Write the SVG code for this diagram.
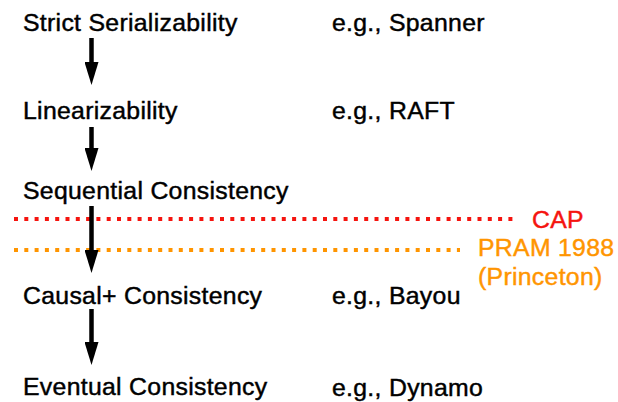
<svg xmlns="http://www.w3.org/2000/svg" width="618" height="402" viewBox="0 0 618 402">
  <style>
    text { font-family: "Liberation Sans", Arial, Helvetica, sans-serif; font-size: 24.8px; letter-spacing: 0.3px; fill: #000; stroke: #000; stroke-width: 0.45px; }
    .cap { fill: #f5140f; stroke: #f5140f; }
    .pram { fill: #ff9500; stroke: #ff9500; }
    .arrow { stroke: #000; stroke-width: 4.5; fill: none; marker-end: url(#head); }
    .dots { fill: none; stroke-width: 4; stroke-dasharray: 4 6.3; }
  </style>
  <defs>
    <!-- arrowhead: 23 long, 14 wide; line ends 15 short of the tip -->
    <marker id="head" markerUnits="userSpaceOnUse" markerWidth="24" markerHeight="14" refX="8" refY="7" orient="auto" viewBox="0 0 24 14">
      <path d="M0,0 L23,7 L0,14 Z" fill="#000"/>
    </marker>
  </defs>

  <!-- boundary lines -->
  <g id="boundaries">
    <line class="dots" x1="14" y1="219" x2="514" y2="219" stroke="#f5140f"/>
    <line class="dots" x1="14" y1="250" x2="460" y2="250" stroke="#ff9500"/>
  </g>

  <!-- connectors -->
  <g id="connectors">
    <line class="arrow" x1="91.5" y1="38" x2="91.5" y2="70"/>
    <line class="arrow" x1="91.5" y1="127" x2="91.5" y2="156"/>
    <line class="arrow" x1="91.5" y1="206" x2="91.5" y2="258"/>
    <line class="arrow" x1="91.5" y1="309" x2="91.5" y2="350"/>
  </g>

  <!-- consistency levels -->
  <g id="strict"><text x="23" y="31">Strict Serializability</text></g>
  <g id="linear"><text x="23" y="119">Linearizability</text></g>
  <g id="sequential"><text x="23" y="199">Sequential Consistency</text></g>
  <g id="causal"><text x="23" y="304">Causal+ Consistency</text></g>
  <g id="eventual"><text x="23" y="395">Eventual Consistency</text></g>

  <!-- examples -->
  <g id="ex-spanner"><text x="332" y="31">e.g., Spanner</text></g>
  <g id="ex-raft"><text x="332" y="119">e.g., RAFT</text></g>
  <g id="ex-bayou"><text x="332" y="304">e.g., Bayou</text></g>
  <g id="ex-dynamo"><text x="332" y="396">e.g., Dynamo</text></g>

  <!-- boundary labels -->
  <g id="label-cap"><text class="cap" x="532" y="228">CAP</text></g>
  <g id="label-pram">
    <text class="pram" x="478" y="256">PRAM 1988</text>
    <text class="pram" x="478" y="285">(Princeton)</text>
  </g>
</svg>
